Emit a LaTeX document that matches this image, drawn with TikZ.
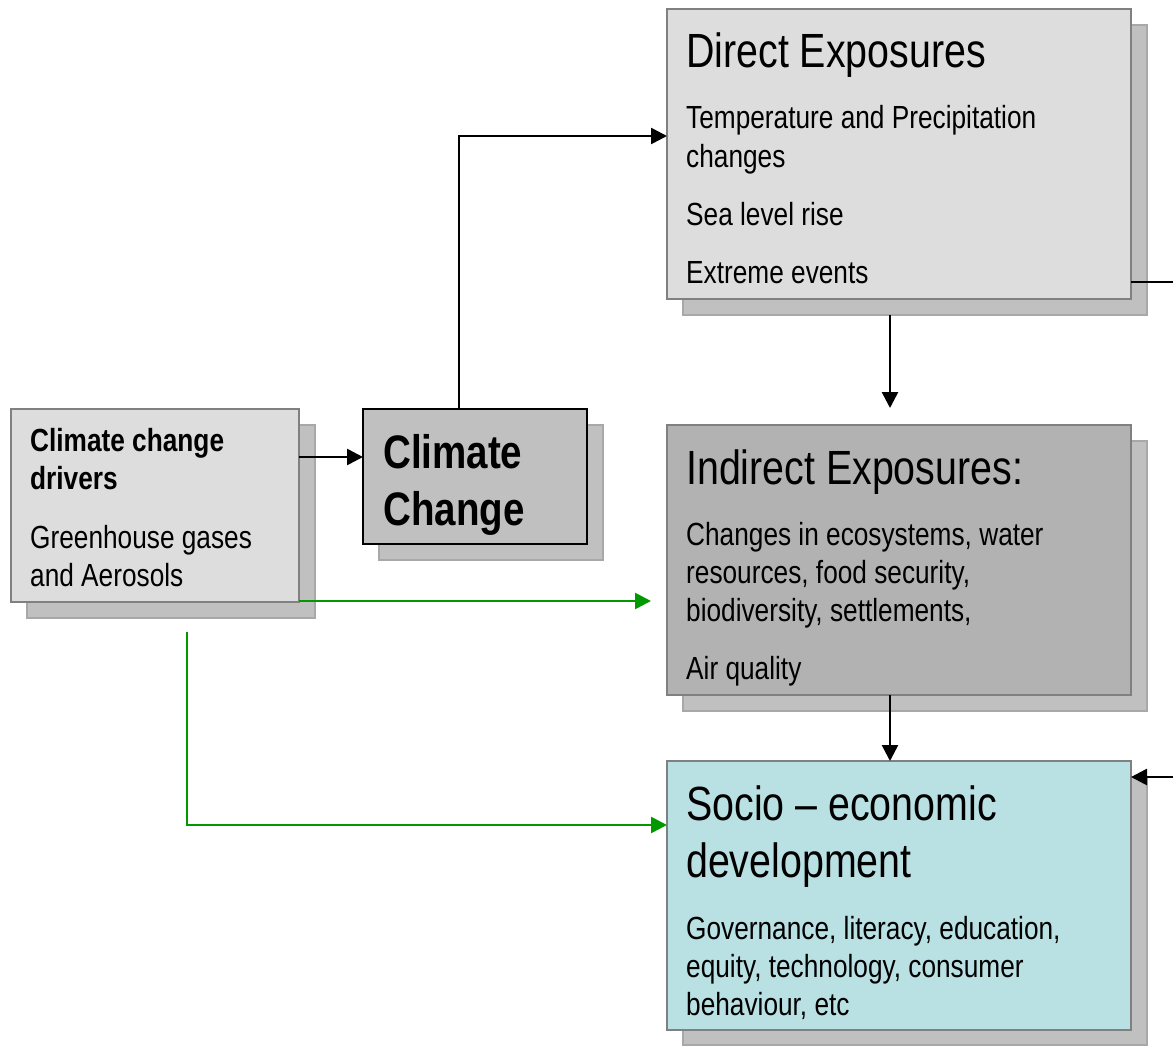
\documentclass[tikz,border=0pt]{standalone}
\usepackage{fontspec}
\setmainfont{Liberation Sans}[FakeStretch=0.82]
\usetikzlibrary{arrows.meta,calc}
\definecolor{boxlight}{HTML}{DDDDDD}
\definecolor{boxmid}{HTML}{B2B2B2}
\definecolor{boxcc}{HTML}{C0C0C0}
\definecolor{boxsocio}{HTML}{B9E0E3}
\definecolor{shadowfill}{HTML}{C0C0C0}
\definecolor{shadowline}{HTML}{A8A8A8}
\definecolor{boxline}{HTML}{808080}
\definecolor{greenline}{HTML}{009900}
\tikzset{
  shadowbox/.style={draw=shadowline, fill=shadowfill, line width=1.5pt, anchor=north west, inner sep=0pt, outer sep=0pt},
  mainbox/.style={draw=boxline, line width=2pt, anchor=north west, inner sep=0pt, outer sep=0pt},
  arr/.style={line width=2.6pt, -{Triangle[length=16pt,width=16pt]}},
  garr/.style={line width=2.6pt, draw=greenline, -{Triangle[length=16pt,width=16pt]}, greenline},
  plainline/.style={line width=2.6pt},
  body/.style={anchor=base west, inner sep=0pt, font=\fontsize{32}{38}\selectfont},
  bodyb/.style={anchor=base west, inner sep=0pt, font=\fontsize{32}{38}\selectfont\bfseries},
  title/.style={anchor=base west, inner sep=0pt, font=\fontsize{48}{56}\selectfont},
  titleb/.style={anchor=base west, inner sep=0pt, font=\fontsize{47}{56}\selectfont\bfseries},
}
\begin{document}
\begin{tikzpicture}[x=1pt,y=-1pt]
\useasboundingbox (0,0) rectangle (1173,1045);
% shadows
\node[shadowbox, minimum width=288pt, minimum height=193pt] (drvS) at (27,425) {};
\node[shadowbox, minimum width=224pt, minimum height=135pt] (ccS) at (379,425) {};
\node[shadowbox, minimum width=464pt, minimum height=290pt] (deS) at (683,25) {};
\node[shadowbox, minimum width=464pt, minimum height=270pt] (ieS) at (683,441) {};
\node[shadowbox, minimum width=464pt, minimum height=268pt] (seS) at (683,777) {};
% boxes
\node[mainbox, fill=boxlight, minimum width=288pt, minimum height=193pt] (drv) at (11,409) {};
\node[mainbox, draw=black, fill=boxcc, minimum width=224pt, minimum height=135pt] (cc) at (363,409) {};
\node[mainbox, fill=boxlight, minimum width=464pt, minimum height=290pt] (de) at (667,9) {};
\node[mainbox, fill=boxmid, minimum width=464pt, minimum height=270pt] (ie) at (667,425) {};
\node[mainbox, fill=boxsocio, minimum width=464pt, minimum height=269pt] (se) at (667,761) {};
% texts: drivers
\node[bodyb] (t1) at (30,451) {Climate change};
\node[bodyb] (t2) at (30,489) {drivers};
\node[body] (t3) at (30,548) {Greenhouse gases};
\node[body] (t4) at (30,586) {and Aerosols};
% climate change
\node[titleb] (t5) at (383,468) {Climate};
\node[titleb] (t6) at (383,525) {Change};
% direct
\node[title] (t7) at (686,67) {Direct Exposures};
\node[body] (t8) at (686,128) {Temperature and Precipitation};
\node[body] (t9) at (686,167) {changes};
\node[body] (t10) at (686,225) {Sea level rise};
\node[body] (t11) at (686,283) {Extreme events};
% indirect
\node[title] (t12) at (686,484) {Indirect Exposures:};
\node[body] (t13) at (686,545) {Changes in ecosystems, water};
\node[body] (t14) at (686,583) {resources, food security,};
\node[body] (t15) at (686,621) {biodiversity, settlements,};
\node[body] (t16) at (686,679) {Air quality};
% socio
\node[title] (t17) at (686,820) {Socio – economic};
\node[title] (t18) at (686,877) {development};
\node[body] (t19) at (686,939) {Governance, literacy, education,};
\node[body] (t20) at (686,977) {equity, technology, consumer};
\node[body] (t21) at (686,1015) {behaviour, etc};
% auxiliary points
\coordinate (rtop) at (1173,282);
\coordinate (rbot) at (1173,777);
\coordinate (gend) at ([xshift=-16pt,yshift=-176pt]ie.north west);
\coordinate (gstart) at ([xshift=176pt,yshift=-30pt]drv.south west);
% connectors
\draw[arr] ([yshift=-48pt]drv.north east) -- ([yshift=-48pt]cc.north west);
\draw[arr] ([xshift=96pt]cc.north west) |- ([yshift=-127pt]de.north west);
\draw[arr] ([xshift=207pt]deS.south west) -- ([xshift=223pt,yshift=17pt]ie.north west);
\draw[arr] ([xshift=223pt]ie.south west) -- ([xshift=223pt]se.north west);
\draw[garr] (drv.east |- gend) -- (gend);
\draw[garr] (gstart) |- ([yshift=-64pt]se.north west);
\draw[plainline] (de.east |- rtop) -- (rtop);
\draw[arr] (rbot) -- (se.east |- rbot);
\end{tikzpicture}
\end{document}
